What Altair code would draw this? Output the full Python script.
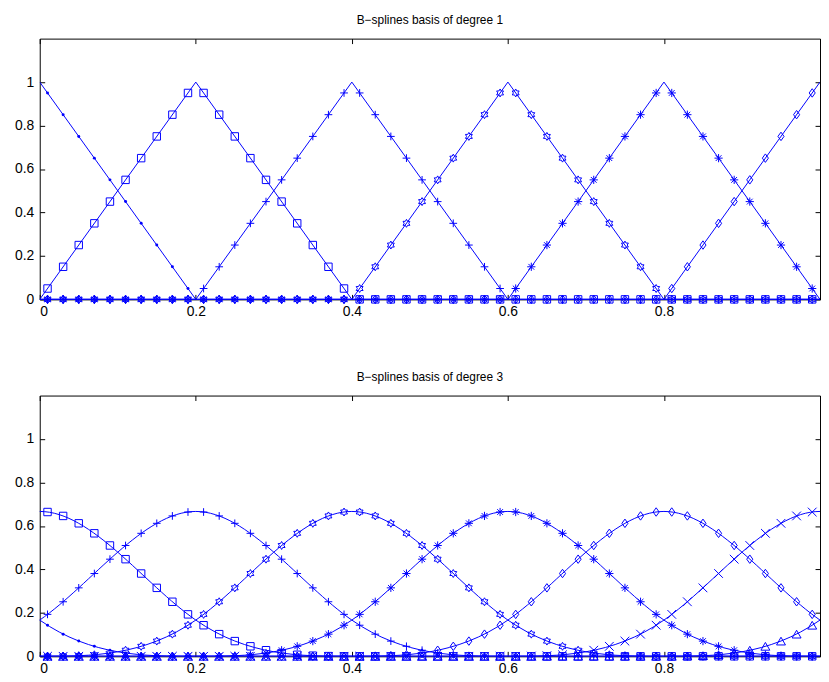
import altair as alt
import pandas as pd

BLUE = "#0000ff"
FONT = "Liberation Sans"

# ---------------- data ----------------
x_markers = [0.01, 0.03, 0.05, 0.07, 0.09, 0.11, 0.13, 0.15, 0.17, 0.19,
             0.21, 0.23, 0.25, 0.27, 0.29, 0.31, 0.33, 0.35, 0.37, 0.39,
             0.41, 0.43, 0.45, 0.47, 0.49, 0.51, 0.53, 0.55, 0.57, 0.59,
             0.61, 0.63, 0.65, 0.67, 0.69, 0.71, 0.73, 0.75, 0.77, 0.79,
             0.81, 0.83, 0.85, 0.87, 0.89, 0.91, 0.93, 0.95, 0.97, 0.99]

x_ticks = [0, 0.2, 0.4, 0.6, 0.8, 1.0]
x_labels = [0, 0.2, 0.4, 0.6, 0.8]
y_ticks = [0, 0.2, 0.4, 0.6, 0.8, 1.0]

# degree 1: knots and line coefficients
knots1 = [0, 0.2, 0.4, 0.6, 0.8, 1.0]
names1 = ["dot", "square", "plus", "hexagram", "asterisk", "diamond"]
line1_dot      = [1, 0, 0, 0, 0, 0]
line1_square   = [0, 1, 0, 0, 0, 0]
line1_plus     = [0, 0, 1, 0, 0, 0]
line1_hexagram = [0, 0, 0, 1, 0, 0]
line1_asterisk = [0, 0, 0, 0, 1, 0]
line1_diamond  = [0, 0, 0, 0, 0, 1]

# degree 1: marker values at x_markers
mk1_dot = [0.95, 0.85, 0.75, 0.65, 0.55, 0.45, 0.35, 0.25, 0.15, 0.05,
           0, 0, 0, 0, 0, 0, 0, 0, 0, 0,
           0, 0, 0, 0, 0, 0, 0, 0, 0, 0,
           0, 0, 0, 0, 0, 0, 0, 0, 0, 0,
           0, 0, 0, 0, 0, 0, 0, 0, 0, 0]
mk1_square = [0.05, 0.15, 0.25, 0.35, 0.45, 0.55, 0.65, 0.75, 0.85, 0.95,
              0.95, 0.85, 0.75, 0.65, 0.55, 0.45, 0.35, 0.25, 0.15, 0.05,
              0, 0, 0, 0, 0, 0, 0, 0, 0, 0,
              0, 0, 0, 0, 0, 0, 0, 0, 0, 0,
              0, 0, 0, 0, 0, 0, 0, 0, 0, 0]
mk1_plus = [0, 0, 0, 0, 0, 0, 0, 0, 0, 0,
            0.05, 0.15, 0.25, 0.35, 0.45, 0.55, 0.65, 0.75, 0.85, 0.95,
            0.95, 0.85, 0.75, 0.65, 0.55, 0.45, 0.35, 0.25, 0.15, 0.05,
            0, 0, 0, 0, 0, 0, 0, 0, 0, 0,
            0, 0, 0, 0, 0, 0, 0, 0, 0, 0]
mk1_hexagram = [0, 0, 0, 0, 0, 0, 0, 0, 0, 0,
                0, 0, 0, 0, 0, 0, 0, 0, 0, 0,
                0.05, 0.15, 0.25, 0.35, 0.45, 0.55, 0.65, 0.75, 0.85, 0.95,
                0.95, 0.85, 0.75, 0.65, 0.55, 0.45, 0.35, 0.25, 0.15, 0.05,
                0, 0, 0, 0, 0, 0, 0, 0, 0, 0]
mk1_asterisk = [0, 0, 0, 0, 0, 0, 0, 0, 0, 0,
                0, 0, 0, 0, 0, 0, 0, 0, 0, 0,
                0, 0, 0, 0, 0, 0, 0, 0, 0, 0,
                0.05, 0.15, 0.25, 0.35, 0.45, 0.55, 0.65, 0.75, 0.85, 0.95,
                0.95, 0.85, 0.75, 0.65, 0.55, 0.45, 0.35, 0.25, 0.15, 0.05]
mk1_diamond = [0, 0, 0, 0, 0, 0, 0, 0, 0, 0,
               0, 0, 0, 0, 0, 0, 0, 0, 0, 0,
               0, 0, 0, 0, 0, 0, 0, 0, 0, 0,
               0, 0, 0, 0, 0, 0, 0, 0, 0, 0,
               0.05, 0.15, 0.25, 0.35, 0.45, 0.55, 0.65, 0.75, 0.85, 0.95]

# degree 3: control points (uniform knots, spacing 0.2) and coefficients
ctrl3 = [-0.6, -0.4, -0.2, 0, 0.2, 0.4, 0.6, 0.8, 1.0, 1.2, 1.4, 1.6]
names3 = ["dot", "square", "plus", "hexagram", "asterisk", "diamond", "xmark", "triangle"]
line3_dot      = [0, 0, 1, 0, 0, 0, 0, 0, 0, 0, 0, 0]
line3_square   = [0, 0, 0, 1, 0, 0, 0, 0, 0, 0, 0, 0]
line3_plus     = [0, 0, 0, 0, 1, 0, 0, 0, 0, 0, 0, 0]
line3_hexagram = [0, 0, 0, 0, 0, 1, 0, 0, 0, 0, 0, 0]
line3_asterisk = [0, 0, 0, 0, 0, 0, 1, 0, 0, 0, 0, 0]
line3_diamond  = [0, 0, 0, 0, 0, 0, 0, 1, 0, 0, 0, 0]
line3_xmark    = [0, 0, 0, 0, 0, 0, 0, 0, 1, 0, 0, 0]
line3_triangle = [0, 0, 0, 0, 0, 0, 0, 0, 0, 1, 0, 0]

# degree 3: marker values at x_markers
mk3_dot = [0.143, 0.102, 0.070, 0.046, 0.028, 0.015, 0.007, 0.003, 0.001, 0.000,
           0, 0, 0, 0, 0, 0, 0, 0, 0, 0,
           0, 0, 0, 0, 0, 0, 0, 0, 0, 0,
           0, 0, 0, 0, 0, 0, 0, 0, 0, 0,
           0, 0, 0, 0, 0, 0, 0, 0, 0, 0]
mk3_square = [0.664, 0.646, 0.612, 0.566, 0.510, 0.447, 0.381, 0.315, 0.251, 0.193,
              0.143, 0.102, 0.070, 0.046, 0.028, 0.015, 0.007, 0.003, 0.001, 0.000,
              0, 0, 0, 0, 0, 0, 0, 0, 0, 0,
              0, 0, 0, 0, 0, 0, 0, 0, 0, 0,
              0, 0, 0, 0, 0, 0, 0, 0, 0, 0]
mk3_plus = [0.193, 0.251, 0.315, 0.381, 0.447, 0.510, 0.566, 0.612, 0.646, 0.664,
            0.664, 0.646, 0.612, 0.566, 0.510, 0.447, 0.381, 0.315, 0.251, 0.193,
            0.143, 0.102, 0.070, 0.046, 0.028, 0.015, 0.007, 0.003, 0.001, 0.000,
            0, 0, 0, 0, 0, 0, 0, 0, 0, 0,
            0, 0, 0, 0, 0, 0, 0, 0, 0, 0]
mk3_hexagram = [0.000, 0.001, 0.003, 0.007, 0.015, 0.028, 0.046, 0.070, 0.102, 0.143,
                0.193, 0.251, 0.315, 0.381, 0.447, 0.510, 0.566, 0.612, 0.646, 0.664,
                0.664, 0.646, 0.612, 0.566, 0.510, 0.447, 0.381, 0.315, 0.251, 0.193,
                0.143, 0.102, 0.070, 0.046, 0.028, 0.015, 0.007, 0.003, 0.001, 0.000,
                0, 0, 0, 0, 0, 0, 0, 0, 0, 0]
mk3_asterisk = [0, 0, 0, 0, 0, 0, 0, 0, 0, 0,
                0.000, 0.001, 0.003, 0.007, 0.015, 0.028, 0.046, 0.070, 0.102, 0.143,
                0.193, 0.251, 0.315, 0.381, 0.447, 0.510, 0.566, 0.612, 0.646, 0.664,
                0.664, 0.646, 0.612, 0.566, 0.510, 0.447, 0.381, 0.315, 0.251, 0.193,
                0.143, 0.102, 0.070, 0.046, 0.028, 0.015, 0.007, 0.003, 0.001, 0.000]
mk3_diamond = [0, 0, 0, 0, 0, 0, 0, 0, 0, 0,
               0, 0, 0, 0, 0, 0, 0, 0, 0, 0,
               0.000, 0.001, 0.003, 0.007, 0.015, 0.028, 0.046, 0.070, 0.102, 0.143,
               0.193, 0.251, 0.315, 0.381, 0.447, 0.510, 0.566, 0.612, 0.646, 0.664,
               0.664, 0.646, 0.612, 0.566, 0.510, 0.447, 0.381, 0.315, 0.251, 0.193]
mk3_xmark = [0, 0, 0, 0, 0, 0, 0, 0, 0, 0,
             0, 0, 0, 0, 0, 0, 0, 0, 0, 0,
             0, 0, 0, 0, 0, 0, 0, 0, 0, 0,
             0.000, 0.001, 0.003, 0.007, 0.015, 0.028, 0.046, 0.070, 0.102, 0.143,
             0.193, 0.251, 0.315, 0.381, 0.447, 0.510, 0.566, 0.612, 0.646, 0.664]
mk3_triangle = [0, 0, 0, 0, 0, 0, 0, 0, 0, 0,
                0, 0, 0, 0, 0, 0, 0, 0, 0, 0,
                0, 0, 0, 0, 0, 0, 0, 0, 0, 0,
                0, 0, 0, 0, 0, 0, 0, 0, 0, 0,
                0.000, 0.001, 0.003, 0.007, 0.015, 0.028, 0.046, 0.070, 0.102, 0.143]

# ---------------- styling ----------------
OPEN_NAMES = ["square", "plus", "hexagram", "asterisk", "diamond", "xmark", "triangle"]
SHAPES = {
    "square": "square",
    "plus": "M-1,0L1,0M0,-1L0,1",
    "hexagram": "M0,-1L0.289,-0.5L0.866,-0.5L0.577,0L0.866,0.5L0.289,0.5L0,1L-0.289,0.5L-0.866,0.5L-0.577,0L-0.866,-0.5L-0.289,-0.5Z",
    "asterisk": "M0,-1L0,1M-1,0L1,0M-0.7,-0.7L0.7,0.7M-0.7,0.7L0.7,-0.7",
    "diamond": "M0,-1L0.72,0L0,1L-0.72,0Z",
    "xmark": "M-1,-1L1,1M-1,1L1,-1",
    "triangle": "triangle-up",
}
SIZES = {"square": 56, "plus": 81, "hexagram": 110, "asterisk": 81,
         "diamond": 100, "xmark": 42, "triangle": 90}
DOT_SIZE = 9

W, H = 787, 263


def panel(title, lx, line_lists, interp, names, marker_lists):
    lrows = []
    for nm, coefs in zip(names, line_lists):
        for xv, yv in zip(lx, coefs):
            lrows.append({"x": xv, "y": yv, "s": nm})
    mrows = []
    for nm, vals in zip(names, marker_lists):
        for xv, yv in zip(x_markers, vals):
            mrows.append({"x": xv, "y": yv, "s": nm})
    ldf = pd.DataFrame(lrows)
    mdf = pd.DataFrame(mrows)
    open_df = mdf[mdf.s != "dot"]
    dot_df = mdf[mdf.s == "dot"]

    xs = alt.Scale(domain=[0, 1], nice=False, zero=False)
    ys = alt.Scale(domain=[0, 1.2], nice=False, zero=False)

    lines = alt.Chart(ldf).mark_line(
        interpolate=interp, clip=True, color=BLUE, strokeWidth=1
    ).encode(
        x=alt.X("x:Q", scale=xs, axis=alt.Axis(
            orient="bottom", values=x_labels, format="~g", ticks=False,
            domain=False, grid=False, title=None, labelPadding=5)),
        y=alt.Y("y:Q", scale=ys, axis=alt.Axis(
            orient="left", values=y_ticks, format="~g", ticks=False,
            domain=False, grid=False, title=None, labelPadding=6)),
        detail="s:N",
    )

    opens = alt.Chart(open_df).mark_point(
        filled=False, color=BLUE, strokeWidth=1, opacity=1
    ).encode(
        x=alt.X("x:Q", scale=xs, axis=alt.Axis(
            orient="top", offset=-H, values=x_ticks, labels=False,
            domain=False, grid=False, title=None, tickSize=5, tickColor="black")),
        y=alt.Y("y:Q", scale=ys, axis=alt.Axis(
            orient="right", offset=-W, values=y_ticks, labels=False,
            domain=False, grid=False, title=None, tickSize=5, tickColor="black")),
        shape=alt.Shape("s:N", scale=alt.Scale(domain=OPEN_NAMES,
                        range=[SHAPES[n] for n in OPEN_NAMES]), legend=None),
        size=alt.Size("s:N", scale=alt.Scale(domain=OPEN_NAMES,
                      range=[SIZES[n] for n in OPEN_NAMES]), legend=None),
    )

    dots = alt.Chart(dot_df).mark_point(
        filled=True, shape="circle", size=DOT_SIZE, color=BLUE, opacity=1
    ).encode(
        x=alt.X("x:Q", scale=xs, axis=alt.Axis(
            orient="bottom", offset=-H, values=x_ticks, labels=False,
            domain=False, grid=False, title=None, tickSize=5, tickColor="black")),
        y=alt.Y("y:Q", scale=ys, axis=alt.Axis(
            orient="left", offset=-W, values=y_ticks, labels=False,
            domain=False, grid=False, title=None, tickSize=5, tickColor="black")),
    )

    return alt.layer(lines, opens, dots).resolve_axis(
        x="independent", y="independent"
    ).properties(
        width=W, height=H,
        title=alt.TitleParams(text=title, fontSize=12, font=FONT,
                              fontWeight="normal", color="black", offset=11,
                              anchor="middle"),
    )


top = panel("B\u2212splines basis of degree 1", knots1,
            [line1_dot, line1_square, line1_plus, line1_hexagram, line1_asterisk, line1_diamond],
            "linear", names1,
            [mk1_dot, mk1_square, mk1_plus, mk1_hexagram, mk1_asterisk, mk1_diamond])

bottom = panel("B\u2212splines basis of degree 3", ctrl3,
               [line3_dot, line3_square, line3_plus, line3_hexagram, line3_asterisk,
                line3_diamond, line3_xmark, line3_triangle],
               "basis", names3,
               [mk3_dot, mk3_square, mk3_plus, mk3_hexagram, mk3_asterisk,
                mk3_diamond, mk3_xmark, mk3_triangle])

chart = alt.vconcat(top, bottom, spacing=52).properties(
    padding={"left": 6, "top": 3, "right": 0, "bottom": 0},
    background="white",
).configure_view(
    stroke="black", strokeWidth=1
).configure_axis(
    labelFont=FONT, labelFontSize=14, labelColor="black", tickColor="black",
)

chart.save("out.html", embed_options={"renderer": "svg", "actions": False})
